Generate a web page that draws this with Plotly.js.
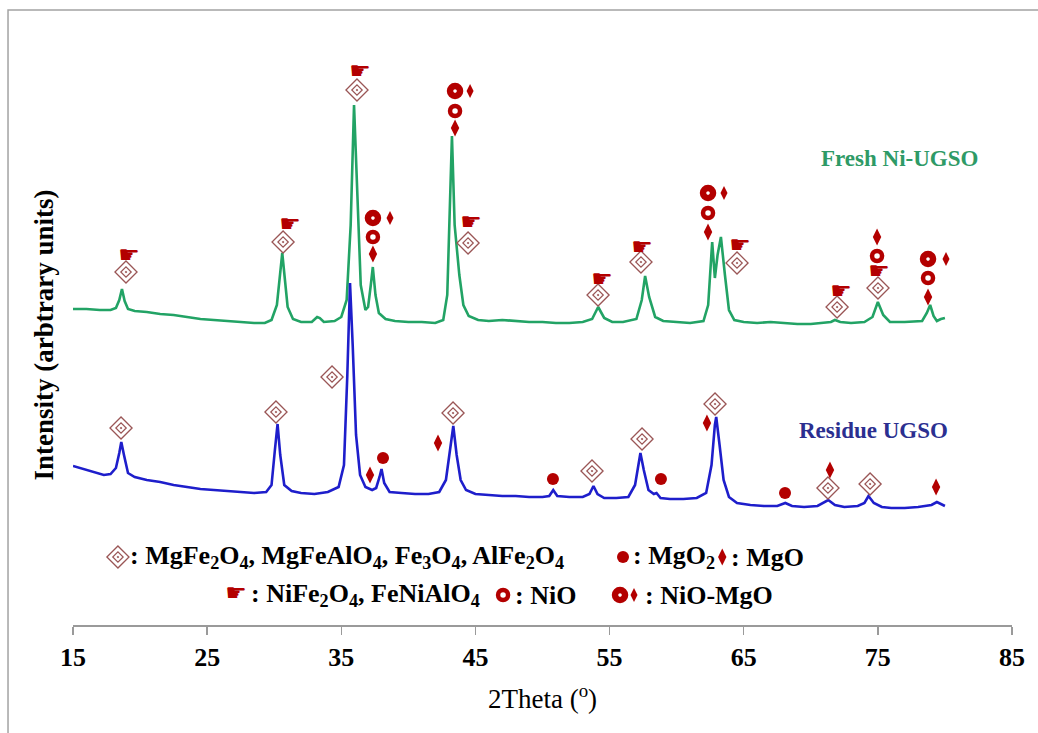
<!DOCTYPE html>
<html><head><meta charset="utf-8">
<script src="https://cdn.plot.ly/plotly-3.0.1.min.js"></script>
<style>body{margin:0;background:#fff}#chart{width:1038px;height:733px}</style>
</head><body><div id="chart"></div>
<script>
// ---- XRD pattern: Fresh Ni-UGSO (2theta, intensity a.u.) ----
const freshTheta = [15.0,16.0,17.0,17.8,18.2,18.45,18.65,18.85,19.1,19.6,20.5,21.5,22.5,23.5,24.5,25.5,26.5,27.5,28.5,29.3,29.8,30.2,30.45,30.6,30.8,31.0,31.4,32.0,32.8,33.2,33.4,33.7,34.5,35.0,35.4,35.7,35.95,36.2,36.45,36.8,37.0,37.2,37.35,37.55,37.8,38.3,39.0,40,41,42,42.6,42.9,43.1,43.25,43.45,43.6,43.8,44.1,44.5,45.2,46,47,48,49,50,51,52,53,53.7,54.15,54.6,55.2,56,57.0,57.4,57.65,57.95,58.4,59,60,61,62,62.35,62.65,62.85,63.05,63.3,63.6,63.9,64.3,65,66,67,68,69,70,71,71.5,71.8,72.2,73,74,74.6,75.0,75.4,75.9,77,78.3,78.65,78.9,79.15,79.4,79.7,80.0];
const freshIntensity = [316,316,315,315,317,325,336,324,316,314,313,311,310,308,306,305,304,303,302,302,305,320,350,372,345,318,306,303,303,308,307,303,304,308,325,400,520,420,340,315,318,340,358,330,312,306,304,303,303,302,305,330,420,489,400,375,350,320,309,305,304,305,304,303,303,302,302,303,306,318,307,303,303,306,325,349,328,308,304,303,302,304,320,383,347,370,388,350,315,305,303,302,303,302,301,301,302,303,305,303,302,303,308,323,310,303,303,304,312,320,309,304,306,307];

// ---- XRD pattern: Residue UGSO ----
const residueTheta = [15.0,15.5,16.5,17.3,17.8,18.2,18.45,18.6,18.8,19.1,19.6,20.5,21.5,22.5,23.5,24.5,25.5,26.5,27.5,28.5,29.4,29.8,30.05,30.25,30.45,30.75,31.3,32,33,34,34.8,35.2,35.45,35.65,35.85,36.1,36.4,36.8,37.3,37.6,37.85,38.0,38.2,38.6,39.5,40.5,41.5,42.3,42.8,43.1,43.35,43.6,43.9,44.3,45,46,47,48,49,50,50.5,50.8,51.1,52,53,53.5,53.8,54.1,54.6,55.5,56.4,56.9,57.15,57.3,57.55,57.9,58.3,58.5,58.8,59.5,60.5,61.5,62.2,62.6,62.85,62.95,63.2,63.5,63.9,64.5,65.5,66.5,67.5,68.1,68.6,69.5,70.5,71.3,71.8,72.5,73.5,74.0,74.3,74.7,75.3,76,77,78,79,79.4,79.7,80.0];
const residueIntensity = [159,157,153,150,151,157,172,183,170,152,148,145,143,140,138,136,135,134,133,132,133,140,175,201,170,140,134,132,131,133,138,160,250,342,280,190,150,138,135,137,148,156,142,133,132,131,131,133,145,175,199,170,145,135,131,130,129,129,128,128,129,135,129,128,128,131,139,131,127,127,128,140,160,172,155,135,131,132,127,126,126,127,132,160,200,208,180,145,128,122,120,119,119,122,119,118,119,125,120,118,119,122,129,122,118,117,117,118,120,123,121,119];

// ---- Phase identification marks (2theta, intensity) ----
const spinelX = [18.95,30.66,36.17,44.45,54.14,57.34,64.50,71.96,75.01, 18.58,30.13,34.31,43.33,53.69,57.42,62.86,71.28,74.42];
const spinelY = [353,383,535,382,330,363,362,318,337, 197,213,248,212,154,186,221,137,141];
const nife2o4X = [19.17,31.18,36.40,44.67,54.44,57.42,64.72,72.25,75.09];
const nife2o4Y = [368,399,552,401,344,376,378,332,352];
const nioX = [37.36,43.48,62.34,74.94,78.74];
const nioY = [388,514,412,369,347];
const mgoX = [37.36,43.48,62.34,74.94,78.74, 37.14,42.21,62.26,71.43,79.34];
const mgoY = [371,497,393,388,328, 150,182,202,155,138];
const nioMgoX = [37.36,43.48,62.34,78.74];
const nioMgoY = [407,534,432,366];
const nioMgoDiamondX = [38.63,44.60,63.53,80.08];
const nioMgoDiamondY = [407,534,432,366];
const mgo2X = [38.11,50.78,58.83,68.08];
const mgo2Y = [167,146,146,132];

const xTicks = [15,25,35,45,55,65,75,85];

const SERIF = 'Liberation Serif, Times New Roman, serif';
const RED = '#b30000';
const BROWN = '#9a5656';

// key (legend) layout positions
const key = {row1: 68, row2: 30};

const traces = [
  {x: freshTheta, y: freshIntensity, mode:'lines', line:{color:'#22a365', width:2.6}},
  {x: residueTheta, y: residueIntensity, mode:'lines', line:{color:'#1e1ecb', width:2.6}},
];

function spinelTraces(x, y){
  return [
    {x, y, mode:'markers', marker:{symbol:'diamond-open', size:17, color:BROWN, line:{color:BROWN, width:1.3}}},
    {x, y, mode:'markers', marker:{symbol:'diamond-open-dot', size:8, color:BROWN, line:{color:BROWN, width:1.2}}}
  ];
}
function handTrace(x, y){
  return {x, y, mode:'text', text:x.map(()=>'☛'), textposition:'middle center', textfont:{family:'DejaVu Sans', size:24, color:RED}};
}
function ringTrace(x, y){
  return {x, y, mode:'markers', marker:{symbol:'circle-open', size:10, color:RED, line:{color:RED, width:4.5}}};
}
function gearTrace(x, y){
  return {x, y, mode:'markers', marker:{symbol:'circle-open', size:10, color:RED, line:{color:RED, width:6.5}}};
}
function diamondTrace(x, y, s){
  return {x, y, mode:'markers', marker:{symbol:'diamond-tall', size:s, color:RED, line:{width:0}}};
}
function dotTrace(x, y){
  return {x, y, mode:'markers', marker:{symbol:'circle', size:12, color:RED, line:{width:0}}};
}

traces.push(...spinelTraces(spinelX, spinelY));
traces.push(handTrace(nife2o4X, nife2o4Y));
traces.push(ringTrace(nioX, nioY));
traces.push(diamondTrace(mgoX, mgoY, 12));
traces.push(gearTrace(nioMgoX, nioMgoY));
traces.push(diamondTrace(nioMgoDiamondX, nioMgoDiamondY, 10));
traces.push(dotTrace(mgo2X, mgo2Y));

// key symbols
traces.push(...spinelTraces([18.35], [key.row1]));
traces.push(dotTrace([56.00], [key.row1]));
traces.push(diamondTrace([63.40], [key.row1], 12));
traces.push(handTrace([27.15], [key.row2]));
traces.push(ringTrace([47.06], [key.row2]));
traces.push(gearTrace([55.78], [key.row2]));
traces.push(diamondTrace([56.82], [key.row2], 10));

traces.forEach(t => { t.showlegend = false; t.hoverinfo = 'skip'; t.cliponaxis = false; });

const keyFont = {family: SERIF, size: 26, color: '#000', weight:'bold'};
function keyText(x, y, text){
  return {x, y, xref:'x', yref:'y', text, showarrow:false, xanchor:'left', yanchor:'middle', font:keyFont};
}

const layout = {
  width: 1038, height: 733,
  margin: {l:73, r:26, t:45, b:108},
  paper_bgcolor:'#ffffff', plot_bgcolor:'#ffffff',
  showlegend:false,
  font:{family:SERIF, color:'#000'},
  xaxis: {
    range:[15,85], tickvals:xTicks, ticktext:xTicks.map(String),
    showgrid:false, zeroline:false, showline:true, linecolor:'#9a9a9a', linewidth:1.5,
    ticks:'outside', ticklen:8, tickcolor:'#9a9a9a', tickwidth:1.5,
    tickfont:{family:SERIF, size:26, color:'#000', weight:'bold'},
    title:{text:'2Theta (<sup>o</sup>)', font:{family:SERIF, size:27, color:'#000'}, standoff:18},
    fixedrange:true
  },
  yaxis: {
    range:[0,580], showgrid:false, zeroline:false, showline:false, showticklabels:false, ticks:'',
    title:{text:'Intensity (arbtrary units)', font:{family:SERIF, size:27, color:'#000', weight:'bold'}, standoff:10},
    fixedrange:true
  },
  annotations: [
    {x:76.6, y:467, xref:'x', yref:'y', text:'<b>Fresh Ni-UGSO</b>', showarrow:false, font:{family:SERIF, size:23, color:'#2e9a66'}},
    {x:74.7, y:195, xref:'x', yref:'y', text:'<b>Residue UGSO</b>', showarrow:false, font:{family:SERIF, size:23, color:'#2b2f90'}},
    keyText(19.1, key.row1, ': MgFe<sub>2</sub>O<sub>4</sub>, MgFeAlO<sub>4</sub>, Fe<sub>3</sub>O<sub>4</sub>, AlFe<sub>2</sub>O<sub>4</sub>'),
    keyText(56.6, key.row1, ': MgO<sub>2</sub>'),
    keyText(63.9, key.row1, ': MgO'),
    keyText(28.1, key.row2, ': NiFe<sub>2</sub>O<sub>4</sub>, FeNiAlO<sub>4</sub>'),
    keyText(47.8, key.row2, ': NiO'),
    keyText(57.5, key.row2, ': NiO-MgO')
  ],
  shapes: [
    {type:'rect', xref:'paper', yref:'paper', x0:-0.0692, x1:1.06, y0:-0.25, y1:1.0603, line:{color:'#a3a3a3', width:1.5}, fillcolor:'rgba(0,0,0,0)', layer:'below'}
  ]
};

Plotly.newPlot('chart', traces, layout, {displayModeBar:false, staticPlot:true});
</script>
</body></html>
